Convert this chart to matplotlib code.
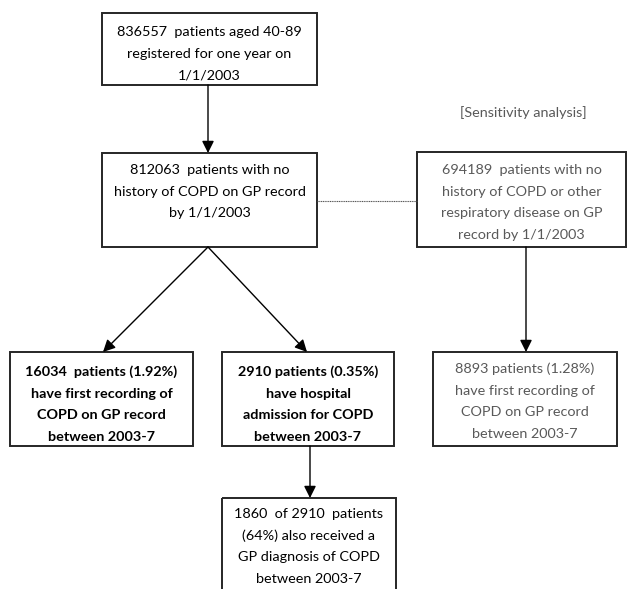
import matplotlib
matplotlib.use("Agg")
import matplotlib.pyplot as plt
from matplotlib.patches import Rectangle, FancyArrowPatch

W, H = 628, 589
fig = plt.figure(figsize=(W/100, H/100), dpi=100)
ax = fig.add_axes([0, 0, 1, 1])
ax.set_xlim(0, W)
ax.set_ylim(H, 0)
ax.axis("off")

FONT = "Lato"
FS = 10.4
LH = 21.7

box_texts = {
    "start": ["836557  patients aged 40-89", "registered for one year on", "1/1/2003"],
    "nohist": ["812063  patients with no", "history of COPD on GP record", "by 1/1/2003"],
    "sens": ["694189  patients with no", "history of COPD or other", "respiratory disease on GP", "record by 1/1/2003"],
    "gp": ["16034  patients (1.92%)", "have first recording of", "COPD on GP record", "between 2003-7"],
    "hosp": ["2910 patients (0.35%)", "have hospital", "admission for COPD", "between 2003-7"],
    "sens_gp": ["8893 patients (1.28%)", "have first recording of", "COPD on GP record", "between 2003-7"],
    "both": ["1860  of 2910  patients", "(64%) also received a", "GP diagnosis of COPD", "between 2003-7"],
}
sens_label = "[Sensitivity analysis]"

# layout: (x0, y0, x1, y1, first line y, bold, color)
layout = {
    "start": (102, 13, 317, 85, 32, False, "black"),
    "nohist": (102, 153, 317, 247, 170, False, "black"),
    "sens": (417, 152, 626, 247, 170, False, "#595959"),
    "gp": (10, 352, 193, 446, 372, True, "black"),
    "hosp": (222, 352, 394, 446, 372, True, "black"),
    "sens_gp": (433, 352, 617, 446, 369, False, "#595959"),
    "both": (222, 498, 396, 600, 514, False, "black"),
}

for key, lines in box_texts.items():
    x0, y0, x1, y1, ly, bold, col = layout[key]
    ax.add_patch(Rectangle((x0, y0), x1 - x0, y1 - y0, fill=False,
                           edgecolor="#262626", lw=1.4, clip_on=False))
    for i, t in enumerate(lines):
        ax.text((x0 + x1) / 2, ly + i * LH, t, ha="center", va="center",
                fontsize=FS, family=FONT, color=col,
                fontweight="bold" if bold else "normal")

ax.text(523, 113, sens_label, ha="center", va="center", fontsize=FS,
        family=FONT, color="#595959")

def arrow(p0, p1):
    ax.add_patch(FancyArrowPatch(p0, p1, arrowstyle="-|>,head_length=6,head_width=3",
                                 mutation_scale=1.2, color="black", lw=1.0,
                                 shrinkA=0, shrinkB=0))

arrow((208, 85), (208, 153))
arrow((208, 247), (103, 352))
arrow((208, 247), (307, 352))
arrow((310, 446), (310, 498))
arrow((526, 247), (526, 352))
ax.plot([317, 417], [201, 201], color="#555555", lw=0.8, ls=(0, (1, 0.6)))

fig.savefig("out.png", dpi=100)
